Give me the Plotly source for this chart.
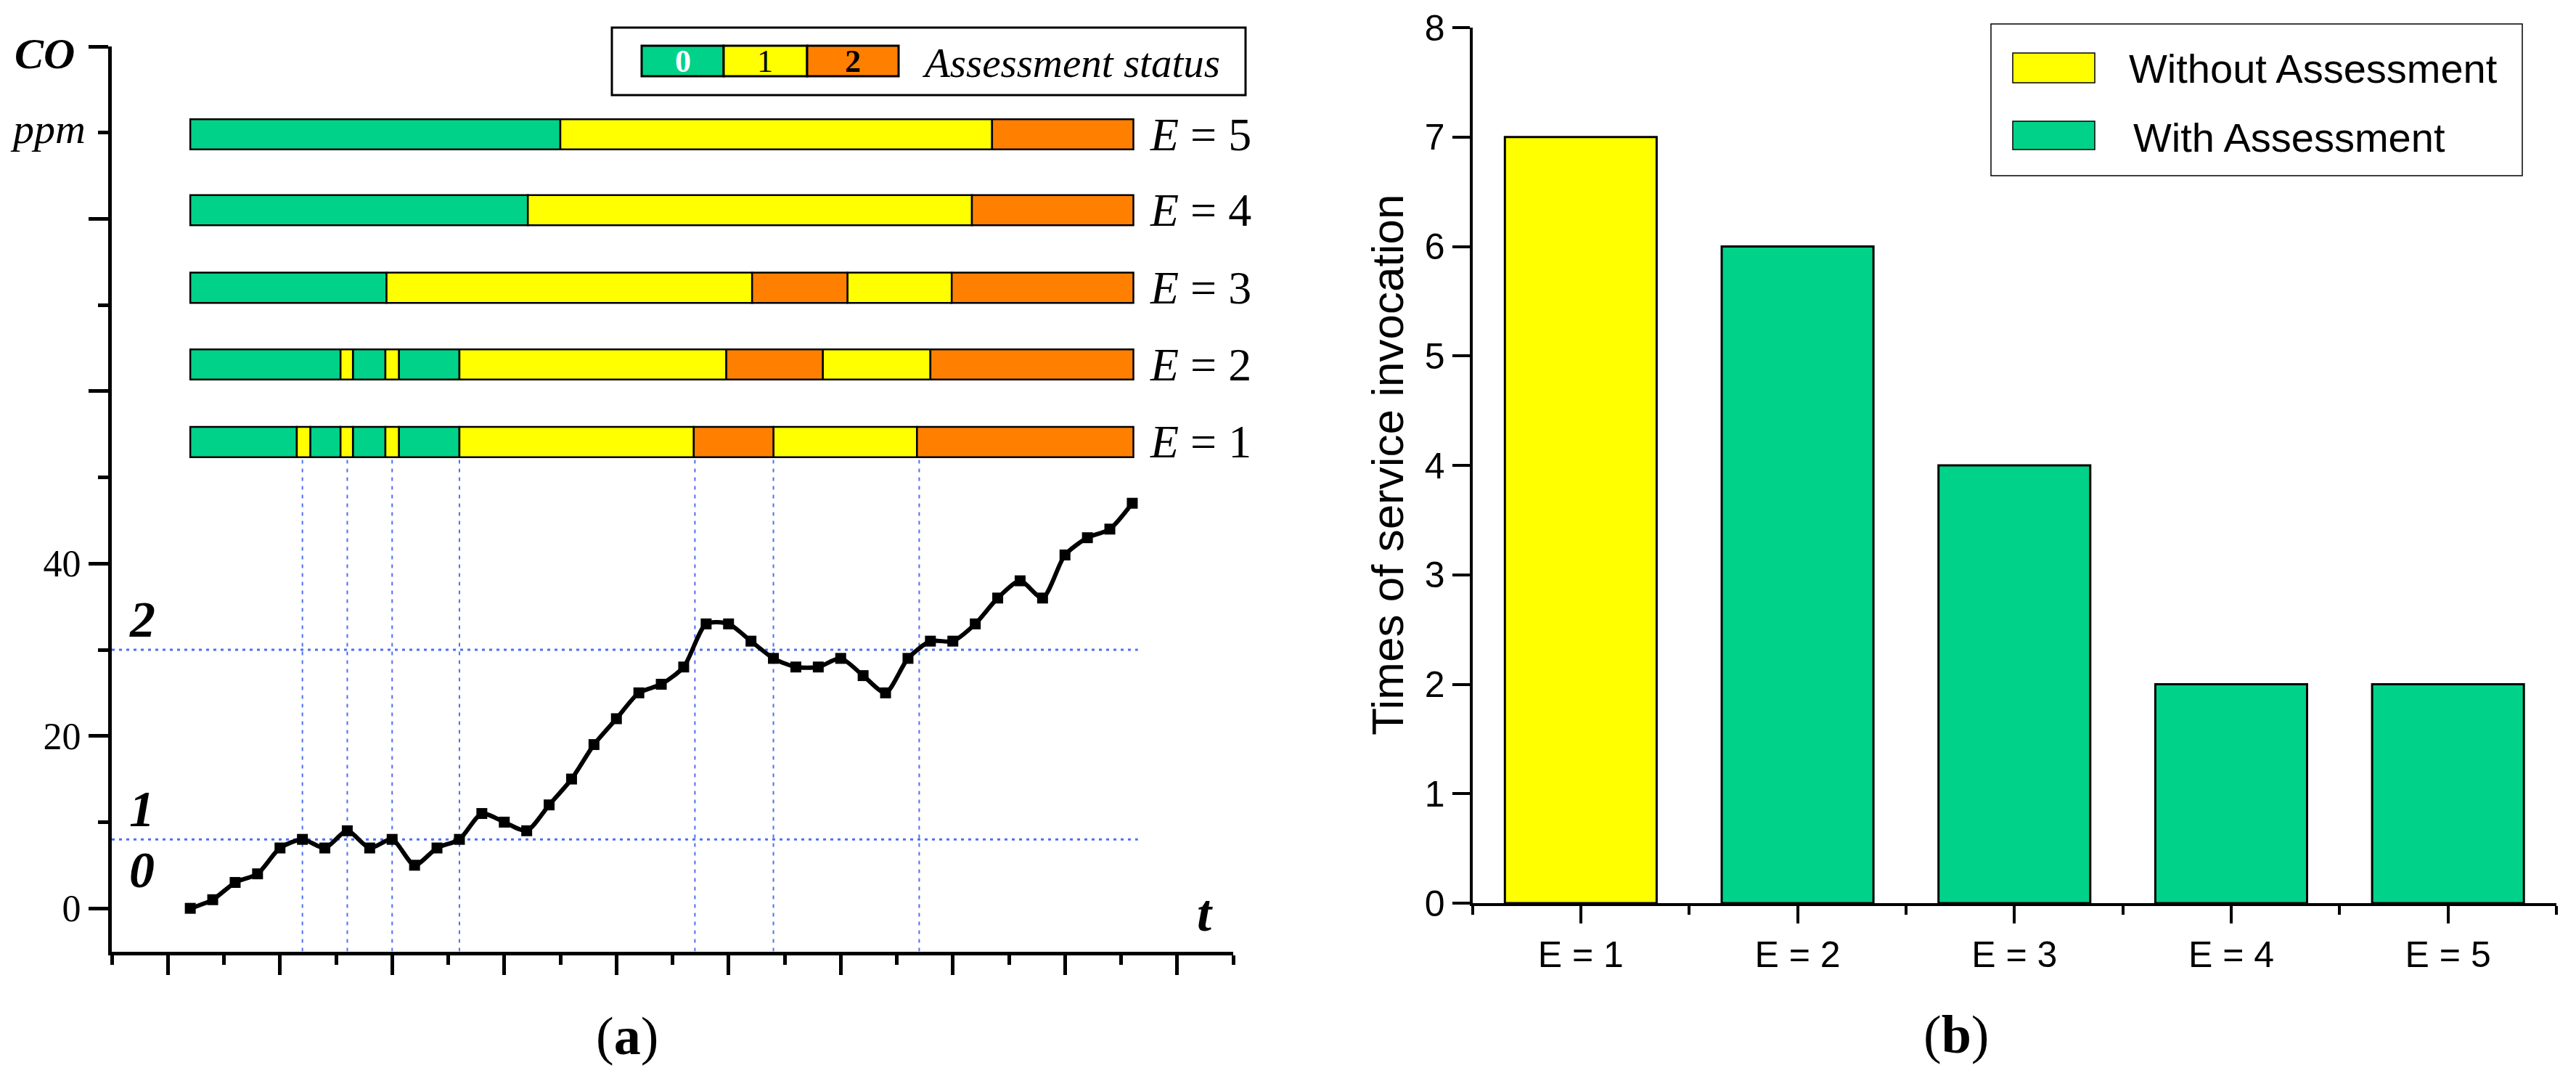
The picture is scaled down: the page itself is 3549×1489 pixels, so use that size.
import plotly.graph_objects as go

W, H = 3549, 1489

# ---- panel (a): CO concentration and assessment status ----
t = [7, 9, 11, 13, 15, 17, 19, 21, 23, 25, 27, 29, 31, 33, 35, 37, 39, 41, 43, 45, 47, 49,
     51, 53, 55, 57, 59, 61, 63, 65, 67, 69, 71, 73, 75, 77, 79, 81, 83, 85, 87, 89, 91]
co_ppm = [0, 1, 3, 4, 7, 8, 7, 9, 7, 8, 5, 7, 8, 11, 10, 9, 12, 15, 19, 22, 25, 26,
          28, 33, 33, 31, 29, 28, 28, 29, 27, 25, 29, 31, 31, 33, 36, 38, 36, 41, 43, 44, 47]
thresholds = [8, 30]
switch_t = [17, 21, 25, 31, 52, 59, 72]

e_levels = [1, 2, 3, 4, 5]
e_rows = [54.1, 63.1, 72.0, 81.0, 89.8]
e1_edges = [7, 16.5, 17.7, 20.4, 21.5, 24.4, 25.6, 31, 51.9, 59, 71.8, 91.1]
e1_status = [0, 1, 0, 1, 0, 1, 0, 1, 2, 1, 2]
e2_edges = [7, 20.4, 21.5, 24.4, 25.6, 31, 54.8, 63.4, 73, 91.1]
e2_status = [0, 1, 0, 1, 0, 1, 2, 1, 2]
e3_edges = [7, 24.5, 57.1, 65.6, 74.9, 91.1]
e3_status = [0, 1, 2, 1, 2]
e4_edges = [7, 37.1, 76.7, 91.1]
e4_status = [0, 1, 2]
e5_edges = [7, 40, 78.5, 91.1]
e5_status = [0, 1, 2]

# ---- panel (b): service invocations ----
b_labels = ['E = 1', 'E = 2', 'E = 3', 'E = 4', 'E = 5']
invocations = [7, 6, 4, 2, 2]
assessed = [False, True, True, True, True]

GREEN = '#00D28A'
YELLOW = '#FFFF00'
ORANGE = '#FF8000'
BLUE = '#4D6FF5'
status_colors = [GREEN, YELLOW, ORANGE]
SERIF = 'Liberation Serif'
SANS = 'Liberation Sans'
bar_h = 3.5


def px(x):
    return x / W


def py(y):
    return 1 - y / H


def label(x, y, text, size, family=SERIF, color='black', xanchor='center', **kw):
    # text placed in page pixels
    return dict(x=px(x), y=py(y), xref='paper', yref='paper', xanchor=xanchor,
                yanchor='middle', text=text, showarrow=False,
                font=dict(family=family, size=size, color=color), **kw)


fig = go.Figure()

# status bars, one trace per status
rows = [(e1_edges, e1_status), (e2_edges, e2_status), (e3_edges, e3_status),
        (e4_edges, e4_status), (e5_edges, e5_status)]
for s in range(3):
    bases, lens, ys = [], [], []
    for (edges, status), yc in zip(rows, e_rows):
        for i, st in enumerate(status):
            if st == s:
                bases.append(edges[i])
                lens.append(edges[i + 1] - edges[i])
                ys.append(yc)
    fig.add_trace(go.Bar(
        orientation='h', base=bases, x=lens, y=ys, width=bar_h,
        marker=dict(color=status_colors[s], line=dict(color='black', width=2.5)),
        xaxis='x', yaxis='y', showlegend=False
    ))

# CO curve
fig.add_trace(go.Scatter(
    x=t, y=co_ppm, mode='lines+markers',
    line=dict(color='black', width=6, shape='spline', smoothing=0.7),
    marker=dict(symbol='square', size=15, color='black'),
    xaxis='x', yaxis='y', showlegend=False
))

# panel (b) bars
fig.add_trace(go.Bar(
    x=[i for i, a in enumerate(assessed) if not a],
    y=[v for v, a in zip(invocations, assessed) if not a],
    width=0.7, marker=dict(color=YELLOW, line=dict(color='black', width=3)),
    xaxis='x2', yaxis='y2', showlegend=False
))
fig.add_trace(go.Bar(
    x=[i for i, a in enumerate(assessed) if a],
    y=[v for v, a in zip(invocations, assessed) if a],
    width=0.7, marker=dict(color=GREEN, line=dict(color='black', width=3)),
    xaxis='x2', yaxis='y2', showlegend=False
))

shapes = []
for thr in thresholds:
    shapes.append(dict(type='line', xref='x', yref='y', x0=0, x1=91.5, y0=thr, y1=thr,
                       line=dict(color=BLUE, width=3, dash='4px,6px'), layer='below'))
for ts in switch_t:
    shapes.append(dict(type='line', xref='x', yref='y', x0=ts, x1=ts, y0=-5,
                       y1=e_rows[0] - bar_h / 2,
                       line=dict(color=BLUE, width=2, dash='5px,7px'), layer='below'))

# legend of panel (a)
shapes.append(dict(type='rect', xref='paper', yref='paper', x0=px(843), x1=px(1716),
                   y0=py(131), y1=py(38), line=dict(color='black', width=3)))
cells = [884, 997, 1112, 1238]
for i, c in enumerate(status_colors):
    shapes.append(dict(type='rect', xref='paper', yref='paper', x0=px(cells[i]), x1=px(cells[i + 1]),
                       y0=py(105), y1=py(63), fillcolor=c, line=dict(color='black', width=3)))

# legend of panel (b)
shapes.append(dict(type='rect', xref='paper', yref='paper', x0=px(2743), x1=px(3475),
                   y0=py(242), y1=py(33), line=dict(color='black', width=1.5)))
shapes.append(dict(type='rect', xref='paper', yref='paper', x0=px(2773), x1=px(2886),
                   y0=py(114), y1=py(73), fillcolor=YELLOW, line=dict(color='black', width=1.5)))
shapes.append(dict(type='rect', xref='paper', yref='paper', x0=px(2773), x1=px(2886),
                   y0=py(206), y1=py(167), fillcolor=GREEN, line=dict(color='black', width=1.5)))

ann = []
for e, yc in zip(e_levels, e_rows):
    ann.append(dict(x=e1_edges[-1], y=yc, xref='x', yref='y', xanchor='left', yanchor='middle',
                    xshift=20, text=f'<i>E</i> = {e}', showarrow=False,
                    font=dict(family=SERIF, size=64, color='black')))
for txt, yv in zip(['0', '1', '2'], [4.4, 11.5, 33.5]):
    ann.append(dict(x=2.7, y=yv, xref='x', yref='y', xanchor='center', yanchor='middle',
                    text=f'<b><i>{txt}</i></b>', showarrow=False,
                    font=dict(family=SERIF, size=70, color='black')))
ann.append(dict(x=97.5, y=-0.6, xref='x', yref='y', xanchor='center', yanchor='middle',
                text='<b><i>t</i></b>', showarrow=False,
                font=dict(family=SERIF, size=72, color='black')))
ann.append(label(61, 74, '<b><i>CO</i></b>', 60))
ann.append(label(66, 178, '<i>ppm</i>', 58))
for txt, xc, col, bold in [('0', 941, 'white', True), ('1', 1054, 'black', False),
                           ('2', 1175, 'black', True)]:
    ann.append(label(xc, 84, f'<b>{txt}</b>' if bold else txt, 44, color=col))
ann.append(label(1268, 86, '<i>Assessment status</i>', 57, xanchor='left'))
ann.append(label(2931, 95, 'Without Assessment', 56, family=SANS, xanchor='left'))
ann.append(label(2937, 190, 'With Assessment', 56, family=SANS, xanchor='left'))
ann.append(label(1911, 641, 'Times of service invocation', 62, family=SANS, textangle=-90))
ann.append(label(864, 1427, '(<b>a</b>)', 74))
ann.append(label(2695, 1425, '(<b>b</b>)', 74))

axis_common = dict(showline=True, linecolor='black', showgrid=False, zeroline=False,
                   ticks='outside', tickcolor='black', automargin=False)

fig.update_layout(
    width=W, height=H,
    margin=dict(l=0, r=0, t=0, b=0, pad=0, autoexpand=False),
    paper_bgcolor='white', plot_bgcolor='white',
    barmode='overlay',
    shapes=shapes, annotations=ann,
    xaxis=dict(domain=[px(154), px(1699)], range=[0, 100], anchor='y', linewidth=5,
               tick0=5, dtick=10, ticklen=27, tickwidth=4.5, showticklabels=False,
               minor=dict(ticks='outside', tick0=0, dtick=5, ticklen=13, tickwidth=4.5,
                          tickcolor='black', showgrid=False),
               **axis_common),
    yaxis=dict(domain=[py(1310.5), py(64)], range=[-5, 100], anchor='x', linewidth=5,
               tickmode='array', tickvals=[0, 20, 40, 60, 80, 100],
               ticktext=['0', '20', '40', '', '', ''], ticklen=27, tickwidth=4.5,
               tickfont=dict(family=SERIF, size=52, color='black'),
               minor=dict(ticks='outside', tick0=0, dtick=10, ticklen=14, tickwidth=4.5,
                          tickcolor='black', showgrid=False),
               **axis_common),
    xaxis2=dict(domain=[px(2028.5), px(3522)], range=[-0.5, 4.5], anchor='y2', linewidth=4,
                tickmode='array', tickvals=list(range(len(b_labels))), ticktext=b_labels,
                ticklen=24, tickwidth=4,
                tickfont=dict(family=SANS, size=50, color='black'),
                minor=dict(ticks='outside', tick0=-0.5, dtick=1, ticklen=12, tickwidth=4,
                           tickcolor='black', showgrid=False),
                **axis_common),
    yaxis2=dict(domain=[py(1244), py(38)], range=[0, 8], anchor='x2', linewidth=4,
                dtick=1, ticklen=24, tickwidth=4,
                tickfont=dict(family=SANS, size=50, color='black'),
                **axis_common),
)

# drop the default page margin so the figure sits at the window origin
fig.write_html('out.html', config={'displayModeBar': False},
               post_script="document.body.style.margin = '0';")
